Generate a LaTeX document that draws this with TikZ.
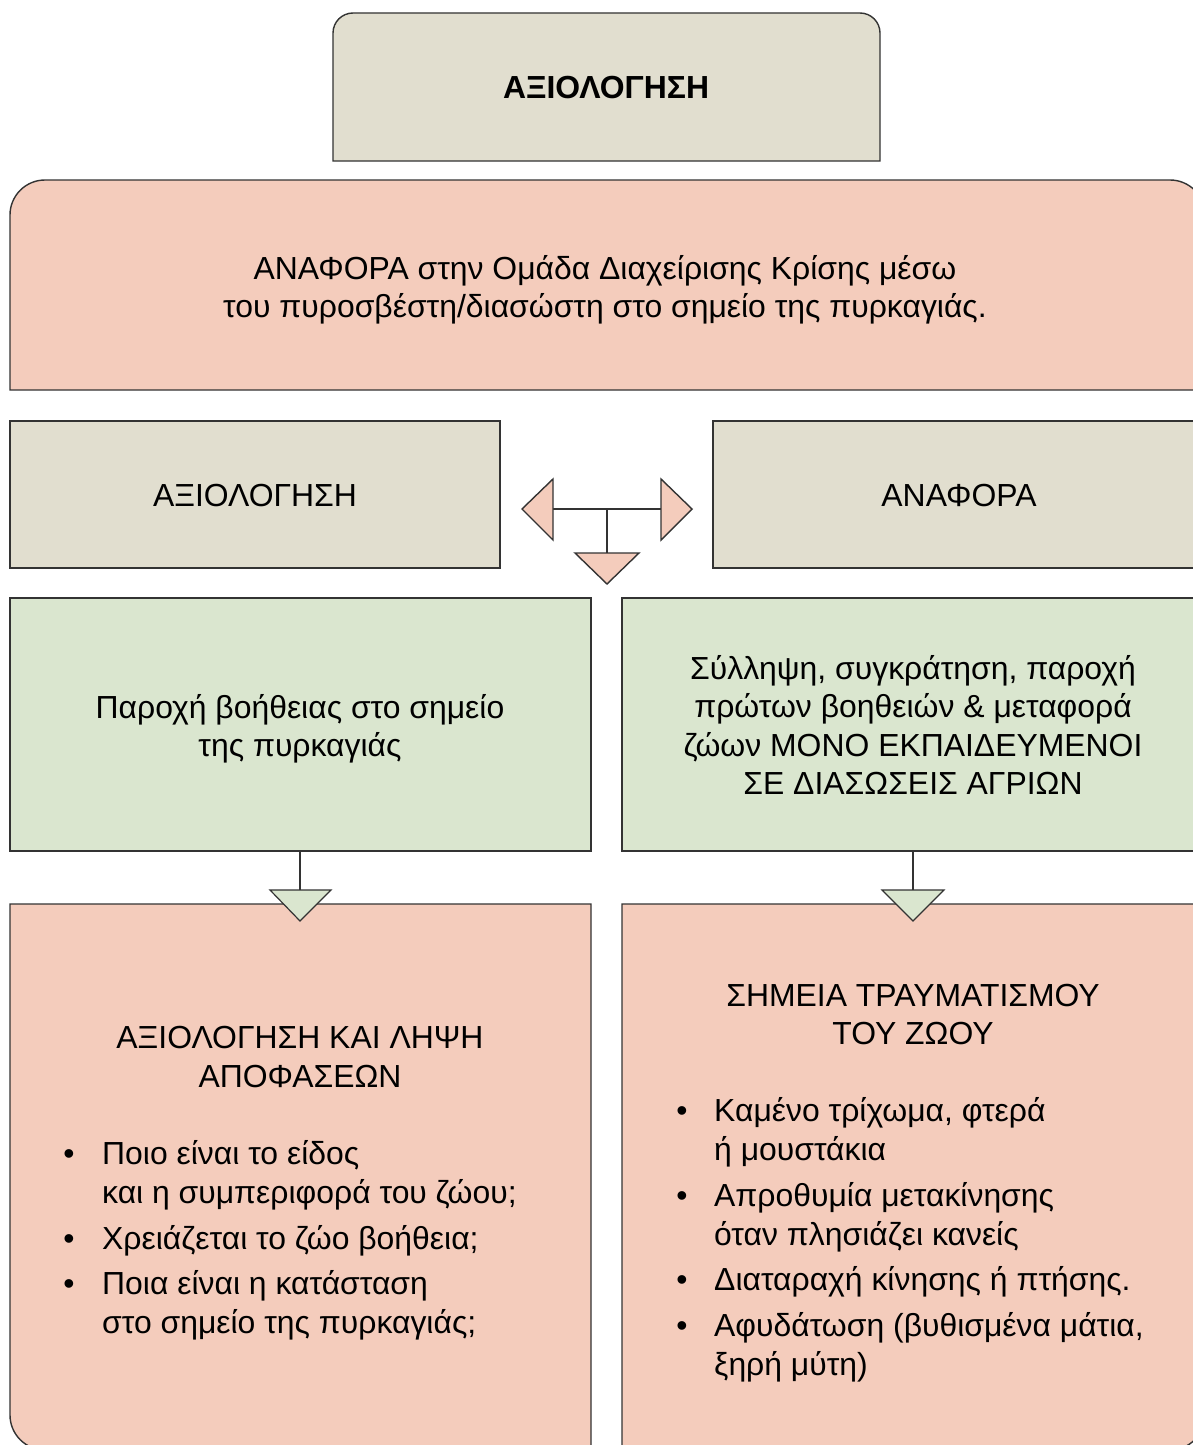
\documentclass[tikz,border=0pt]{standalone}
\usepackage{fontspec}
\setmainfont{Liberation Sans}
\definecolor{beige}{HTML}{E1DECF}
\definecolor{pinkf}{HTML}{F4CCBC}
\definecolor{greenf}{HTML}{DAE6CF}
\definecolor{edge}{HTML}{333333}
\tikzset{
  boxline/.style={draw=edge, line width=1.4pt},
  conn/.style={draw=edge, line width=1.3pt},
  tl/.style={anchor=base, inner sep=0pt, font=\fontsize{31.9}{38.5}\selectfont},
  tlw/.style={anchor=base west, inner sep=0pt, font=\fontsize{31.9}{38.5}\selectfont},
  bul/.style={anchor=base, inner sep=0pt, font=\fontsize{31.9}{38.5}\selectfont},
}
\begin{document}
\begin{tikzpicture}[x=1pt, y=-1pt]
\useasboundingbox (0,0) rectangle (1193,1445);
\clip (0,0) rectangle (1193,1445);
\fill[white] (0,0) rectangle (1193,1445);

% top title box
\draw[boxline, fill=beige] (333,161) -- (333,33) arc(180:270:20) -- (860,13) arc(270:360:20) -- (880,161) -- cycle;
\node[tl, font=\fontsize{31.9}{38.5}\selectfont\bfseries] (title) at (606,99) {ΑΞΙΟΛΟΓΗΣΗ};

% pink report box
\draw[boxline, fill=pinkf] (10,390) -- (10,215) arc(180:270:35) -- (1170,180) arc(270:360:35) -- (1205,390) -- cycle;
\node[tl] (rep1) at (605,279) {ΑΝΑΦΟΡΑ στην Ομάδα Διαχείρισης Κρίσης μέσω};
\node[tl] (rep2) at (605,317) {του πυροσβέστη/διασώστη στο σημείο της πυρκαγιάς.};

% beige boxes
\draw[boxline, fill=beige] (10,421) rectangle (500,568);
\node[tl] (axl) at (255,506) {ΑΞΙΟΛΟΓΗΣΗ};
\draw[boxline, fill=beige] (713,421) rectangle (1205,568);
\node[tl] (anf) at (959,506) {ΑΝΑΦΟΡΑ};

% middle three-way arrow
\coordinate (hl) at (553,509);
\coordinate (hr) at (661,509);
\coordinate (hm) at (607,509);
\coordinate (dm) at (607,553);
\draw[conn] (hl) -- (hr);
\draw[conn] (hm) -- (dm);
\draw[boxline, fill=pinkf] (553,479) -- (522,509) -- (553,540) -- cycle;
\draw[boxline, fill=pinkf] (661,479) -- (692,509) -- (661,540) -- cycle;
\draw[boxline, fill=pinkf] (575,553) -- (639,553) -- (607,584) -- cycle;

% green boxes
\draw[boxline, fill=greenf] (10,598) rectangle (591,851);
\node[tl] (g1a) at (300,718) {Παροχή βοήθειας στο σημείο};
\node[tl] (g1b) at (300,756) {της πυρκαγιάς};
\draw[boxline, fill=greenf] (622,598) rectangle (1205,851);
\node[tl] (g2a) at (913,679) {Σύλληψη, συγκράτηση, παροχή};
\node[tl] (g2b) at (913,717) {πρώτων βοηθειών \& μεταφορά};
\node[tl] (g2c) at (913,756) {ζώων ΜΟΝΟ ΕΚΠΑΙΔΕΥΜΕΝΟΙ};
\node[tl] (g2d) at (913,794) {ΣΕ ΔΙΑΣΩΣΕΙΣ ΑΓΡΙΩΝ};

% bottom pink boxes
\draw[boxline, fill=pinkf] (10,904) -- (591,904) -- (591,1450) -- (45,1450) arc(90:180:35) -- cycle;
\draw[boxline, fill=pinkf] (622,904) -- (1205,904) -- (1205,1415) arc(0:90:35) -- (622,1450) -- cycle;

% green connectors
\coordinate (gl1) at (300,851);
\coordinate (gl2) at (300,890);
\coordinate (gr1) at (913,851);
\coordinate (gr2) at (913,890);
\draw[conn] (gl1) -- (gl2);
\draw[conn] (gr1) -- (gr2);
\draw[boxline, line width=1.2pt, fill=greenf] (270,890) -- (331,890) -- (300,921) -- cycle;
\draw[boxline, line width=1.2pt, fill=greenf] (882,890) -- (944,890) -- (913,921) -- cycle;

% bottom left text
\node[tl] (bl1) at (300,1048) {ΑΞΙΟΛΟΓΗΣΗ ΚΑΙ ΛΗΨΗ};
\node[tl] (bl2) at (300,1087) {ΑΠΟΦΑΣΕΩΝ};
\node[bul] (lb1) at (69,1164) {•};
\node[tlw] (l1a) at (102,1164) {Ποιο είναι το είδος};
\node[tlw] (l1b) at (102,1203) {και η συμπεριφορά του ζώου;};
\node[bul] (lb2) at (69,1249) {•};
\node[tlw] (l2a) at (102,1249) {Χρειάζεται το ζώο βοήθεια;};
\node[bul] (lb3) at (69,1294) {•};
\node[tlw] (l3a) at (102,1294) {Ποια είναι η κατάσταση};
\node[tlw] (l3b) at (102,1333) {στο σημείο της πυρκαγιάς;};

% bottom right text
\node[tl] (br1) at (913,1006) {ΣΗΜΕΙΑ ΤΡΑΥΜΑΤΙΣΜΟΥ};
\node[tl] (br2) at (913,1044) {ΤΟΥ ΖΩΟΥ};
\node[bul] (rb1) at (682,1121) {•};
\node[tlw] (r1a) at (714,1121) {Καμένο τρίχωμα, φτερά};
\node[tlw] (r1b) at (714,1160) {ή μουστάκια};
\node[bul] (rb2) at (682,1206) {•};
\node[tlw] (r2a) at (714,1206) {Απροθυμία μετακίνησης};
\node[tlw] (r2b) at (714,1245) {όταν πλησιάζει κανείς};
\node[bul] (rb3) at (682,1290) {•};
\node[tlw] (r3a) at (714,1290) {Διαταραχή κίνησης ή πτήσης.};
\node[bul] (rb4) at (682,1336) {•};
\node[tlw] (r4a) at (714,1336) {Αφυδάτωση (βυθισμένα μάτια,};
\node[tlw] (r4b) at (714,1375) {ξηρή μύτη)};
\end{tikzpicture}
\end{document}
